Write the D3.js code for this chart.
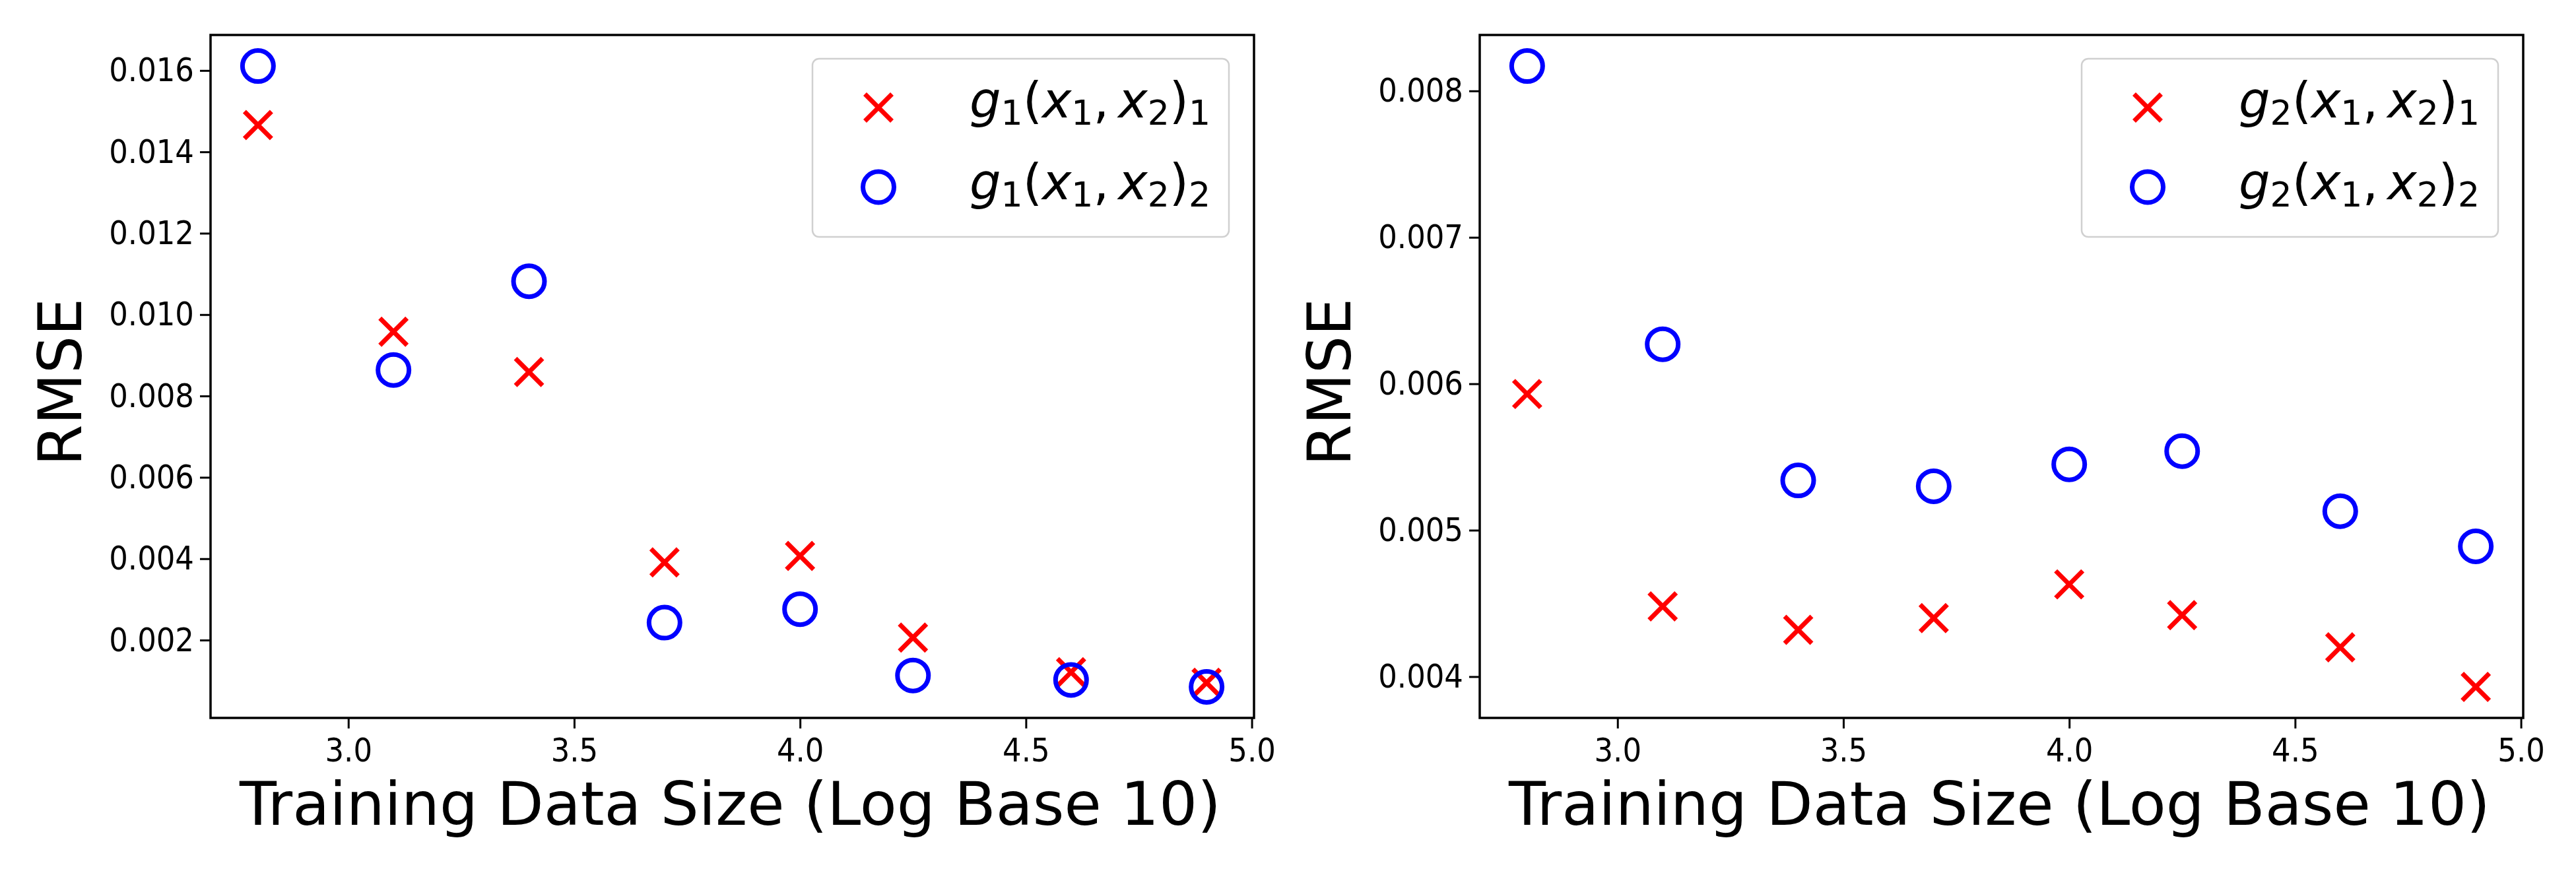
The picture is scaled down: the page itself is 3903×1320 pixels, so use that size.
<!DOCTYPE html>
<html>
<head>
<meta charset="utf-8">
<script src="https://cdn.jsdelivr.net/npm/d3@7"></script>
<style>
body { margin: 0; background: #fff; }
text { font-family: "DejaVu Sans", sans-serif; fill: #000; }
.tick text { font-family: "DejaVu Sans Condensed", "DejaVu Sans", sans-serif; font-stretch: condensed; }
</style>
</head>
<body>
<div id="chart"></div>
<script>
// log10 of training data size
var sizes = [2.8, 3.1, 3.4, 3.7, 4.0, 4.25, 4.6, 4.9];

// left panel, g1
var g1First = [0.01466, 0.00958, 0.00859, 0.00391, 0.00407, 0.00206, 0.00121, 0.00095];
var g1Second = [0.01611, 0.00864, 0.01082, 0.00243, 0.00276, 0.00113, 0.00102, 0.00085];

// right panel, g2
var g2First = [0.00593, 0.00448, 0.00432, 0.00440, 0.00463, 0.00442, 0.00420, 0.00393];
var g2Second = [0.00817, 0.00627, 0.00534, 0.00530, 0.00545, 0.00554, 0.00513, 0.00489];

var xTicks = [3.0, 3.5, 4.0, 4.5, 5.0];
var leftTicks = [0.002, 0.004, 0.006, 0.008, 0.010, 0.012, 0.014, 0.016];
var rightTicks = [0.004, 0.005, 0.006, 0.007, 0.008];
var funcIndex = [1, 2];

var width = 3903;
var height = 1320;

var svg = d3.select('#chart')
	.append('svg')
	.attr('width', width)
	.attr('height', height);

// matplotlib style 5% margins
function padded(values) {
	var ext = d3.extent(values);
	var pad = (ext[1] - ext[0]) * 0.05;
	return [ext[0] - pad, ext[1] + pad];
}

function mathLabel(sel, f, comp) {
	var big = 75, small = 52;
	var parts = [
		{t: 'g', it: true}, {t: f, sub: true}, {t: '('},
		{t: 'x', it: true}, {t: '1', sub: true}, {t: ','},
		{t: 'x', it: true, dx: 14}, {t: '2', sub: true}, {t: ')'},
		{t: comp, sub: true}
	];
	var down = false;
	parts.forEach(function(p) {
		var ts = sel.append('tspan').text(p.t)
			.style('font-size', (p.sub ? small : big) + 'px')
			.style('font-style', p.it ? 'italic' : 'normal');
		var dy = 0;
		if (p.sub && !down) { dy = 11; down = true; }
		if (!p.sub && down) { dy = -11; down = false; }
		ts.attr('dy', dy);
		if (p.dx) ts.attr('dx', p.dx);
	});
}

function drawPanel(left, right, top, bottom, first, second, yTicks, f) {
	var xScale = d3.scaleLinear()
		.domain(padded(sizes))
		.range([left, right]);

	var yScale = d3.scaleLinear()
		.domain(padded(first.concat(second)))
		.range([bottom, top]);

	var xAxis = d3.axisBottom(xScale)
		.tickValues(xTicks)
		.tickFormat(d3.format('.1f'))
		.tickSize(16)
		.tickSizeOuter(0)
		.tickPadding(14);

	var yAxis = d3.axisLeft(yScale)
		.tickValues(yTicks)
		.tickFormat(d3.format('.3f'))
		.tickSize(16)
		.tickSizeOuter(0)
		.tickPadding(9);

	var gx = svg.append('g')
		.attr('transform', 'translate(0, ' + bottom + ')')
		.call(xAxis);
	var gy = svg.append('g')
		.attr('transform', 'translate(' + left + ', 0)')
		.call(yAxis);

	[gx, gy].forEach(function(g) {
		g.select('.domain').remove();
		g.selectAll('.tick line').attr('stroke', '#000').attr('stroke-width', 3);
		g.selectAll('.tick text').style('font-size', '50px').attr('fill', '#000');
	});

	svg.append('rect')
		.attr('x', left)
		.attr('y', top)
		.attr('width', right - left)
		.attr('height', bottom - top)
		.attr('fill', 'none')
		.attr('stroke', '#000')
		.attr('stroke-width', 3.5);

	var cross = 20.5;
	svg.append('g').selectAll('path')
		.data(sizes)
		.enter()
		.append('path')
		.attr('d', function(d, i) {
			var cx = xScale(d), cy = yScale(first[i]);
			return 'M' + (cx - cross) + ',' + (cy - cross) + 'L' + (cx + cross) + ',' + (cy + cross) +
				'M' + (cx - cross) + ',' + (cy + cross) + 'L' + (cx + cross) + ',' + (cy - cross);
		})
		.attr('stroke', '#ff0000')
		.attr('stroke-width', 7)
		.attr('fill', 'none');

	svg.append('g').selectAll('circle')
		.data(sizes)
		.enter()
		.append('circle')
		.attr('cx', function(d) { return xScale(d); })
		.attr('cy', function(d, i) { return yScale(second[i]); })
		.attr('r', 23.5)
		.attr('fill', 'none')
		.attr('stroke', '#0000ff')
		.attr('stroke-width', 7);

	// axis labels
	svg.append('text')
		.attr('x', (left + right) / 2 - 3)
		.attr('y', 1250)
		.attr('text-anchor', 'middle')
		.style('font-size', '91.5px')
		.text('Training Data Size (Log Base 10)');

	svg.append('text')
		.attr('transform', 'translate(' + (left - 196) + ', 579) rotate(-90)')
		.attr('text-anchor', 'middle')
		.style('font-size', '90px')
		.text('RMSE');

	// legend
	var legend = svg.append('g')
		.attr('transform', 'translate(' + (right - 38 - 631) + ', ' + (top + 36) + ')');
	legend.append('rect')
		.attr('width', 631)
		.attr('height', 270)
		.attr('rx', 10)
		.attr('fill', '#fff')
		.attr('fill-opacity', 0.8)
		.attr('stroke', '#d0d0d0')
		.attr('stroke-width', 2.5);
	legend.append('path')
		.attr('d', 'M' + (100 - cross) + ',' + (74 - cross) + 'L' + (100 + cross) + ',' + (74 + cross) +
			'M' + (100 - cross) + ',' + (74 + cross) + 'L' + (100 + cross) + ',' + (74 - cross))
		.attr('stroke', '#ff0000')
		.attr('stroke-width', 7);
	legend.append('circle')
		.attr('cx', 100)
		.attr('cy', 194.5)
		.attr('r', 23.5)
		.attr('fill', 'none')
		.attr('stroke', '#0000ff')
		.attr('stroke-width', 7);
	mathLabel(legend.append('text').attr('x', 238).attr('y', 89), f, '1');
	mathLabel(legend.append('text').attr('x', 238).attr('y', 213), f, '2');
}

drawPanel(319, 1900, 53, 1088, g1First, g1Second, leftTicks, funcIndex[0]);
drawPanel(2242, 3823, 53, 1088, g2First, g2Second, rightTicks, funcIndex[1]);
</script>
</body>
</html>
